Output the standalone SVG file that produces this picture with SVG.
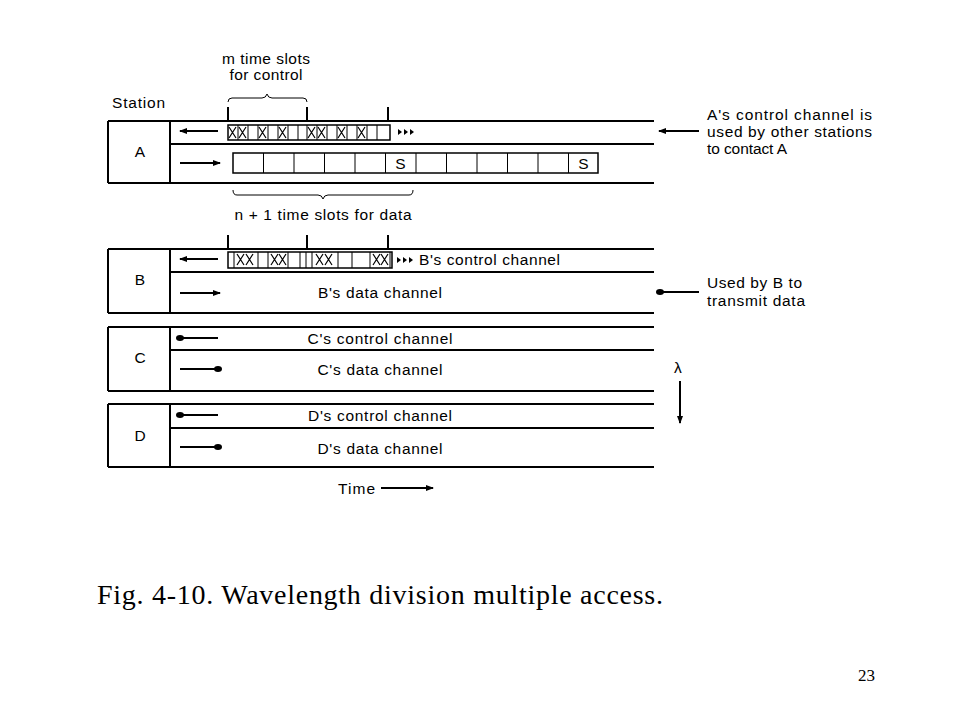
<svg xmlns="http://www.w3.org/2000/svg" width="960" height="720" viewBox="0 0 960 720">
<style>
.ln{stroke:#000;stroke-width:2;fill:none}
.th{stroke:#000;stroke-width:1;fill:none}
.t{font-family:"Liberation Sans",Arial,sans-serif;font-size:15.5px;fill:#000}
.c{text-anchor:middle}
.cap{font-family:"Liberation Serif","Times New Roman",serif;font-size:28px;fill:#000}
.pg{font-family:"Liberation Serif","Times New Roman",serif;font-size:17px;fill:#000}
.cell{stroke:#000;stroke-width:1.5;fill:#fff}
</style>
<defs>
<marker id="ah" viewBox="0 0 8 6" refX="7" refY="3" markerWidth="8" markerHeight="6" markerUnits="userSpaceOnUse" orient="auto">
<path d="M0,0 L8,3 L0,6 Z" fill="#000"/>
</marker>
<marker id="dot" viewBox="0 0 8 6" refX="4" refY="3" markerWidth="8" markerHeight="6" markerUnits="userSpaceOnUse" orient="auto">
<ellipse cx="4" cy="3" rx="4" ry="3" fill="#000"/>
</marker>
<path id="chev" d="M0,-3 L4,0 L0,3 Z" fill="#000"/>
<g id="xx"><path d="M1,2 L8,13 M8,2 L1,13" stroke="#000" stroke-width="1.2"/></g>
</defs>

<rect width="960" height="720" fill="#fff"/>

<text class="t" x="112" y="108" textLength="53">Station</text>

<g id="station-A">
<path class="ln" d="M108,121 H654 M170,144 H654 M108,183 H654 M108,121 V183 M170,121 V183"/>
<text class="t" x="140" y="157" text-anchor="middle">A</text>
<path class="ln" d="M228,107 V121 M307,107 V121 M388,107 V121"/>
<path class="th" stroke-width="1.5" d="M228,102 Q228,98 232,98 L262,98 Q266,98 267,94 Q268,98 272,98 L303,98 Q307,98 307,102"/>
<text class="t c" x="266" y="64" textLength="88">m time slots</text>
<text class="t c" x="266" y="80" textLength="73">for control</text>
<rect class="cell" x="228" y="125" width="162" height="15"/>
<path class="th" stroke-width="1.5" d="M238,125V140 M248,125V140 M258,125V140 M268,125V140 M278,125V140 M288,125V140 M298,125V140 M307,125V140 M317,125V140 M327,125V140 M337,125V140 M347,125V140 M357,125V140 M367,125V140 M377,125V140"/>
<use href="#xx" x="228" y="125"/><use href="#xx" x="238" y="125"/><use href="#xx" x="258" y="125"/><use href="#xx" x="278" y="125"/>
<use href="#xx" x="307" y="125"/><use href="#xx" x="317" y="125"/><use href="#xx" x="337" y="125"/><use href="#xx" x="357" y="125"/>
<use href="#chev" x="398" y="132"/><use href="#chev" x="404" y="132"/><use href="#chev" x="410" y="132"/>
<rect class="cell" x="233" y="153" width="365" height="20"/>
<path class="th" stroke-width="1.5" d="M263.5,153V173 M294,153V173 M324.5,153V173 M355,153V173 M385.5,153V173 M416,153V173 M446.5,153V173 M477,153V173 M507.5,153V173 M538,153V173 M568.5,153V173"/>
<text class="t c" x="400.5" y="169">S</text>
<text class="t c" x="583.5" y="169">S</text>
<path class="th" stroke-width="1.5" d="M233,190 Q233,195 237,195 L318,195 Q322,195 323,199 Q324,195 328,195 L409,195 Q413,195 413,190"/>
<text class="t c" x="323" y="220" textLength="177">n + 1 time slots for data</text>
<text class="t" x="707" y="120" textLength="165">A's control channel is</text>
<text class="t" x="707" y="137" textLength="165">used by other stations</text>
<text class="t" x="707" y="154" textLength="80">to contact A</text>
</g>

<g id="station-B">
<path class="ln" d="M108,249 H654 M170,272 H654 M108,313 H654 M108,249 V313 M170,249 V313"/>
<text class="t" x="140" y="285" text-anchor="middle">B</text>
<path class="ln" d="M228,235 V249 M307,235 V249 M388,235 V249"/>
<rect class="cell" x="228" y="252" width="164" height="16"/>
<path class="th" stroke-width="1.5" d="M234,252V268 M258,252V268 M268,252V268 M288,252V268 M300,252V268 M306,252V268 M312,252V268 M338,252V268 M352,252V268 M370,252V268 M390,252V268"/>
<use href="#xx" x="236" y="252"/><use href="#xx" x="245" y="252"/>
<use href="#xx" x="270" y="252"/><use href="#xx" x="278" y="252"/>
<use href="#xx" x="315" y="252"/><use href="#xx" x="324" y="252"/>
<use href="#xx" x="372" y="252"/><use href="#xx" x="380" y="252"/>
<use href="#chev" x="397" y="260"/><use href="#chev" x="403" y="260"/><use href="#chev" x="409" y="260"/>
<text class="t" x="419" y="265" textLength="141">B's control channel</text>
<text class="t c" x="380" y="298" textLength="124">B's data channel</text>
<text class="t" x="707" y="288" textLength="95">Used by B to</text>
<text class="t" x="707" y="306" textLength="98">transmit data</text>
</g>

<g id="station-C">
<path class="ln" d="M108,327 H654 M170,350 H654 M108,391 H654 M108,327 V391 M170,327 V391"/>
<text class="t" x="140" y="363" text-anchor="middle">C</text>
<text class="t c" x="380" y="344" textLength="145">C's control channel</text>
<text class="t c" x="380" y="375" textLength="125">C's data channel</text>
</g>

<g id="station-D">
<path class="ln" d="M108,404 H654 M170,428 H654 M108,467 H654 M108,404 V467 M170,404 V467"/>
<text class="t" x="140" y="441" text-anchor="middle">D</text>
<text class="t c" x="380" y="421" textLength="144">D's control channel</text>
<text class="t c" x="380" y="454" textLength="125">D's data channel</text>
</g>

<g id="connectors">
<line class="ln" x1="218" y1="131" x2="180" y2="131" marker-end="url(#ah)"/>
<line class="ln" x1="180" y1="163" x2="220" y2="163" marker-end="url(#ah)"/>
<line class="ln" x1="218" y1="259" x2="180" y2="259" marker-end="url(#ah)"/>
<line class="ln" x1="180" y1="293" x2="220" y2="293" marker-end="url(#ah)"/>
<line class="ln" x1="218" y1="338" x2="180" y2="338" marker-end="url(#dot)"/>
<line class="ln" x1="180" y1="369" x2="218" y2="369" marker-end="url(#dot)"/>
<line class="ln" x1="218" y1="415" x2="180" y2="415" marker-end="url(#dot)"/>
<line class="ln" x1="180" y1="447" x2="218" y2="447" marker-end="url(#dot)"/>
<line class="ln" x1="699" y1="131" x2="659" y2="131" marker-end="url(#ah)"/>
<line class="ln" x1="699" y1="292" x2="660" y2="292" marker-end="url(#dot)"/>
<line class="ln" x1="680" y1="381" x2="680" y2="423" marker-end="url(#ah)"/>
<line class="ln" x1="381" y1="488" x2="433" y2="488" marker-end="url(#ah)"/>
</g>

<text class="t" x="674" y="373">λ</text>
<text class="t" x="338" y="494" textLength="37">Time</text>

<text class="cap" x="97" y="604" textLength="566">Fig. 4-10. Wavelength division multiple access.</text>
<text class="pg" x="858" y="681">23</text>
</svg>
